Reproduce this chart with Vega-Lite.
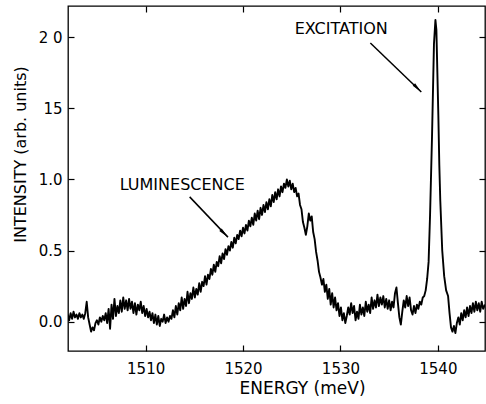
{
  "$schema": "https://vega.github.io/schema/vega-lite/v6.json",
  "width": 417,
  "height": 345,
  "autosize": "none",
  "padding": {"left": 68, "top": 6, "right": 1, "bottom": 53},
  "background": "white",
  "config": {
    "view": {"stroke": "black", "strokeWidth": 1.3},
    "font": "DejaVu Sans",
    "axis": {
      "grid": false,
      "domain": false,
      "tickColor": "black",
      "tickWidth": 1.2,
      "tickSize": -6,
      "labelColor": "black",
      "labelFont": "DejaVu Sans",
      "labelFontSize": 15,
      "titleColor": "black",
      "titleFont": "DejaVu Sans",
      "titleFontWeight": "normal"
    }
  },
  "datasets": {
    "spectrum": [
      {"e":1502.00,"i":0.05},{"e":1502.15,"i":0.01},{"e":1502.30,"i":0.06},{"e":1502.45,"i":0.02},{"e":1502.60,"i":0.07},{"e":1502.75,"i":0.03},{"e":1502.90,"i":0.05},{"e":1503.05,"i":0.02},{"e":1503.20,"i":0.06},{"e":1503.35,"i":0.03},{"e":1503.50,"i":0.05},{"e":1503.65,"i":0.02},{"e":1503.80,"i":0.06},{"e":1503.95,"i":0.14},{"e":1504.10,"i":0.03},{"e":1504.25,"i":-0.02},{"e":1504.40,"i":-0.07},{"e":1504.55,"i":-0.04},{"e":1504.70,"i":-0.06},{"e":1504.85,"i":-0.01},{"e":1505.00,"i":0.01},{"e":1505.15,"i":-0.02},{"e":1505.30,"i":0.03},{"e":1505.45,"i":0.0},{"e":1505.60,"i":0.04},{"e":1505.75,"i":0.01},{"e":1505.90,"i":0.06},{"e":1506.05,"i":-0.01},{"e":1506.20,"i":0.09},{"e":1506.35,"i":-0.05},{"e":1506.50,"i":0.12},{"e":1506.65,"i":0.02},{"e":1506.80,"i":0.16},{"e":1506.95,"i":0.04},{"e":1507.10,"i":0.11},{"e":1507.25,"i":0.06},{"e":1507.40,"i":0.15},{"e":1507.55,"i":0.07},{"e":1507.70,"i":0.17},{"e":1507.85,"i":0.09},{"e":1508.00,"i":0.15},{"e":1508.15,"i":0.08},{"e":1508.30,"i":0.16},{"e":1508.45,"i":0.09},{"e":1508.60,"i":0.14},{"e":1508.75,"i":0.06},{"e":1508.90,"i":0.13},{"e":1509.05,"i":0.05},{"e":1509.20,"i":0.12},{"e":1509.35,"i":0.08},{"e":1509.50,"i":0.14},{"e":1509.65,"i":0.06},{"e":1509.80,"i":0.11},{"e":1509.95,"i":0.04},{"e":1510.10,"i":0.09},{"e":1510.25,"i":0.03},{"e":1510.40,"i":0.07},{"e":1510.55,"i":0.01},{"e":1510.70,"i":0.06},{"e":1510.85,"i":-0.01},{"e":1511.00,"i":0.05},{"e":1511.15,"i":-0.02},{"e":1511.30,"i":0.04},{"e":1511.45,"i":-0.03},{"e":1511.60,"i":0.02},{"e":1511.75,"i":0.0},{"e":1511.90,"i":0.05},{"e":1512.05,"i":-0.01},{"e":1512.20,"i":0.03},{"e":1512.35,"i":0.0},{"e":1512.50,"i":0.04},{"e":1512.65,"i":0.02},{"e":1512.80,"i":0.08},{"e":1512.95,"i":0.03},{"e":1513.10,"i":0.11},{"e":1513.25,"i":0.05},{"e":1513.40,"i":0.13},{"e":1513.55,"i":0.08},{"e":1513.70,"i":0.17},{"e":1513.85,"i":0.09},{"e":1514.00,"i":0.16},{"e":1514.15,"i":0.11},{"e":1514.30,"i":0.21},{"e":1514.45,"i":0.13},{"e":1514.60,"i":0.20},{"e":1514.75,"i":0.16},{"e":1514.90,"i":0.24},{"e":1515.05,"i":0.17},{"e":1515.20,"i":0.23},{"e":1515.35,"i":0.19},{"e":1515.50,"i":0.27},{"e":1515.65,"i":0.21},{"e":1515.80,"i":0.28},{"e":1515.95,"i":0.25},{"e":1516.10,"i":0.32},{"e":1516.25,"i":0.26},{"e":1516.40,"i":0.33},{"e":1516.55,"i":0.30},{"e":1516.70,"i":0.37},{"e":1516.85,"i":0.33},{"e":1517.00,"i":0.40},{"e":1517.15,"i":0.35},{"e":1517.30,"i":0.42},{"e":1517.45,"i":0.39},{"e":1517.60,"i":0.46},{"e":1517.75,"i":0.41},{"e":1517.90,"i":0.48},{"e":1518.05,"i":0.44},{"e":1518.20,"i":0.51},{"e":1518.35,"i":0.47},{"e":1518.50,"i":0.53},{"e":1518.65,"i":0.50},{"e":1518.80,"i":0.56},{"e":1518.95,"i":0.52},{"e":1519.10,"i":0.59},{"e":1519.25,"i":0.55},{"e":1519.40,"i":0.61},{"e":1519.55,"i":0.58},{"e":1519.70,"i":0.64},{"e":1519.85,"i":0.60},{"e":1520.00,"i":0.66},{"e":1520.15,"i":0.62},{"e":1520.30,"i":0.68},{"e":1520.45,"i":0.64},{"e":1520.60,"i":0.71},{"e":1520.75,"i":0.67},{"e":1520.90,"i":0.73},{"e":1521.05,"i":0.68},{"e":1521.20,"i":0.76},{"e":1521.35,"i":0.71},{"e":1521.50,"i":0.78},{"e":1521.65,"i":0.72},{"e":1521.80,"i":0.80},{"e":1521.95,"i":0.75},{"e":1522.10,"i":0.82},{"e":1522.25,"i":0.77},{"e":1522.40,"i":0.84},{"e":1522.55,"i":0.79},{"e":1522.70,"i":0.86},{"e":1522.85,"i":0.81},{"e":1523.00,"i":0.89},{"e":1523.15,"i":0.84},{"e":1523.30,"i":0.91},{"e":1523.45,"i":0.86},{"e":1523.60,"i":0.93},{"e":1523.75,"i":0.88},{"e":1523.90,"i":0.95},{"e":1524.05,"i":0.91},{"e":1524.20,"i":0.97},{"e":1524.35,"i":0.94},{"e":1524.50,"i":1.0},{"e":1524.65,"i":0.95},{"e":1524.80,"i":0.99},{"e":1524.95,"i":0.93},{"e":1525.10,"i":0.97},{"e":1525.25,"i":0.91},{"e":1525.40,"i":0.94},{"e":1525.55,"i":0.88},{"e":1525.70,"i":0.90},{"e":1525.85,"i":0.82},{"e":1526.00,"i":0.79},{"e":1526.15,"i":0.70},{"e":1526.30,"i":0.66},{"e":1526.45,"i":0.61},{"e":1526.60,"i":0.67},{"e":1526.75,"i":0.76},{"e":1526.90,"i":0.71},{"e":1527.05,"i":0.74},{"e":1527.20,"i":0.63},{"e":1527.35,"i":0.58},{"e":1527.50,"i":0.49},{"e":1527.65,"i":0.43},{"e":1527.80,"i":0.35},{"e":1527.95,"i":0.31},{"e":1528.10,"i":0.26},{"e":1528.25,"i":0.30},{"e":1528.40,"i":0.21},{"e":1528.55,"i":0.26},{"e":1528.70,"i":0.16},{"e":1528.85,"i":0.23},{"e":1529.00,"i":0.12},{"e":1529.15,"i":0.20},{"e":1529.30,"i":0.10},{"e":1529.45,"i":0.17},{"e":1529.60,"i":0.08},{"e":1529.75,"i":0.13},{"e":1529.90,"i":0.04},{"e":1530.05,"i":0.10},{"e":1530.20,"i":0.01},{"e":1530.35,"i":0.06},{"e":1530.50,"i":-0.01},{"e":1530.65,"i":0.04},{"e":1530.80,"i":0.10},{"e":1530.95,"i":0.05},{"e":1531.10,"i":0.13},{"e":1531.25,"i":0.06},{"e":1531.40,"i":0.11},{"e":1531.55,"i":0.01},{"e":1531.70,"i":0.07},{"e":1531.85,"i":0.02},{"e":1532.00,"i":0.12},{"e":1532.15,"i":0.05},{"e":1532.30,"i":0.10},{"e":1532.45,"i":0.04},{"e":1532.60,"i":0.14},{"e":1532.75,"i":0.07},{"e":1532.90,"i":0.12},{"e":1533.05,"i":0.06},{"e":1533.20,"i":0.17},{"e":1533.35,"i":0.09},{"e":1533.50,"i":0.15},{"e":1533.65,"i":0.10},{"e":1533.80,"i":0.19},{"e":1533.95,"i":0.11},{"e":1534.10,"i":0.17},{"e":1534.25,"i":0.12},{"e":1534.40,"i":0.18},{"e":1534.55,"i":0.10},{"e":1534.70,"i":0.16},{"e":1534.85,"i":0.09},{"e":1535.00,"i":0.15},{"e":1535.15,"i":0.08},{"e":1535.30,"i":0.14},{"e":1535.45,"i":0.10},{"e":1535.60,"i":0.20},{"e":1535.75,"i":0.24},{"e":1535.90,"i":0.13},{"e":1536.05,"i":0.03},{"e":1536.20,"i":-0.02},{"e":1536.35,"i":0.07},{"e":1536.50,"i":0.15},{"e":1536.65,"i":0.10},{"e":1536.80,"i":0.18},{"e":1536.95,"i":0.11},{"e":1537.10,"i":0.17},{"e":1537.25,"i":0.08},{"e":1537.40,"i":0.05},{"e":1537.55,"i":0.11},{"e":1537.70,"i":0.06},{"e":1537.85,"i":0.12},{"e":1538.00,"i":0.09},{"e":1538.15,"i":0.14},{"e":1538.30,"i":0.12},{"e":1538.45,"i":0.17},{"e":1538.60,"i":0.18},{"e":1538.75,"i":0.22},{"e":1538.90,"i":0.30},{"e":1539.05,"i":0.42},{"e":1539.20,"i":0.75},{"e":1539.40,"i":1.3},{"e":1539.60,"i":1.95},{"e":1539.75,"i":2.12},{"e":1539.85,"i":2.05},{"e":1539.95,"i":1.75},{"e":1540.05,"i":1.45},{"e":1540.15,"i":1.1},{"e":1540.25,"i":0.85},{"e":1540.45,"i":0.5},{"e":1540.65,"i":0.32},{"e":1540.85,"i":0.22},{"e":1541.05,"i":0.18},{"e":1541.20,"i":0.06},{"e":1541.35,"i":-0.04},{"e":1541.50,"i":-0.07},{"e":1541.65,"i":-0.03},{"e":1541.80,"i":-0.08},{"e":1541.95,"i":-0.01},{"e":1542.10,"i":0.03},{"e":1542.25,"i":-0.02},{"e":1542.40,"i":0.06},{"e":1542.55,"i":0.01},{"e":1542.70,"i":0.08},{"e":1542.85,"i":0.03},{"e":1543.00,"i":0.10},{"e":1543.15,"i":0.04},{"e":1543.30,"i":0.11},{"e":1543.45,"i":0.06},{"e":1543.60,"i":0.13},{"e":1543.75,"i":0.07},{"e":1543.90,"i":0.14},{"e":1544.05,"i":0.08},{"e":1544.20,"i":0.13},{"e":1544.35,"i":0.07},{"e":1544.50,"i":0.14},{"e":1544.65,"i":0.09},{"e":1544.84,"i":0.12}
    ],
    "arrows": [
      {"e":1514.52,"i":0.877,"e2":1518.45,"i2":0.594},
      {"e":1533.07,"i":1.958,"e2":1538.3,"i2":1.614}
    ],
    "labels": [
      {"e":1507.34,"i":0.961,"text":"LUMINESCENCE"},
      {"e":1525.3,"i":2.059,"text":"EXCITATION"}
    ]
  },
  "layer": [
    {
      "data": {"name": "spectrum"},
      "mark": {"type": "line", "color": "black", "strokeWidth": 1.9, "clip": true, "strokeJoin": "round"},
      "encoding": {
        "x": {
          "field": "e", "type": "quantitative",
          "scale": {"domain": [1502.03, 1544.84], "nice": false, "zero": false},
          "axis": {
            "orient": "bottom", "values": [1510, 1520, 1530, 1540], "format": "d",
            "labelPadding": 16, "title": "ENERGY (meV)", "titleFontSize": 17,
            "titleX": 234, "titleY": 42, "titleBaseline": "alphabetic"
          }
        },
        "y": {
          "field": "i", "type": "quantitative",
          "scale": {"domain": [-0.206, 2.218], "nice": false, "zero": false},
          "axis": {
            "orient": "left", "values": [0, 0.5, 1, 1.5, 2],
            "labelExpr": "datum.value == 1.5 ? '15' : datum.value == 2 ? '2 0' : format(datum.value, '.1f')",
            "labelPadding": 12, "title": "INTENSITY (arb. units)", "titleFontSize": 16,
            "titleX": -48, "titleY": 148, "titleBaseline": "middle", "titleAngle": -90
          }
        }
      }
    },
    {
      "data": {"name": "arrows"},
      "mark": {"type": "rule", "color": "black", "strokeWidth": 1.5},
      "encoding": {
        "x": {
          "field": "e", "type": "quantitative",
          "scale": {"domain": [1502.03, 1544.84], "nice": false, "zero": false},
          "axis": {"orient": "top", "values": [1510, 1520, 1530, 1540], "labels": false, "title": null}
        },
        "y": {
          "field": "i", "type": "quantitative",
          "scale": {"domain": [-0.206, 2.218], "nice": false, "zero": false},
          "axis": {"orient": "right", "values": [0, 0.5, 1, 1.5, 2], "labels": false, "title": null}
        },
        "x2": {"field": "e2"},
        "y2": {"field": "i2"}
      }
    },
    {
      "data": {"name": "arrows"},
      "mark": {"type": "point", "filled": true, "color": "black", "opacity": 1, "shape": "M0,0L-2,-0.32L-2,0.32Z", "size": 110, "angle": 45},
      "encoding": {
        "x": {"field": "e2", "type": "quantitative", "scale": {"domain": [1502.03, 1544.84], "nice": false, "zero": false}, "axis": null},
        "y": {"field": "i2", "type": "quantitative", "scale": {"domain": [-0.206, 2.218], "nice": false, "zero": false}, "axis": null}
      }
    },
    {
      "data": {"name": "labels"},
      "mark": {"type": "text", "align": "left", "baseline": "middle", "font": "DejaVu Sans", "fontSize": 16, "color": "black"},
      "encoding": {
        "x": {"field": "e", "type": "quantitative", "scale": {"domain": [1502.03, 1544.84], "nice": false, "zero": false}, "axis": null},
        "y": {"field": "i", "type": "quantitative", "scale": {"domain": [-0.206, 2.218], "nice": false, "zero": false}, "axis": null},
        "text": {"field": "text"}
      }
    }
  ],
  "resolve": {"axis": {"x": "independent", "y": "independent"}}
}
